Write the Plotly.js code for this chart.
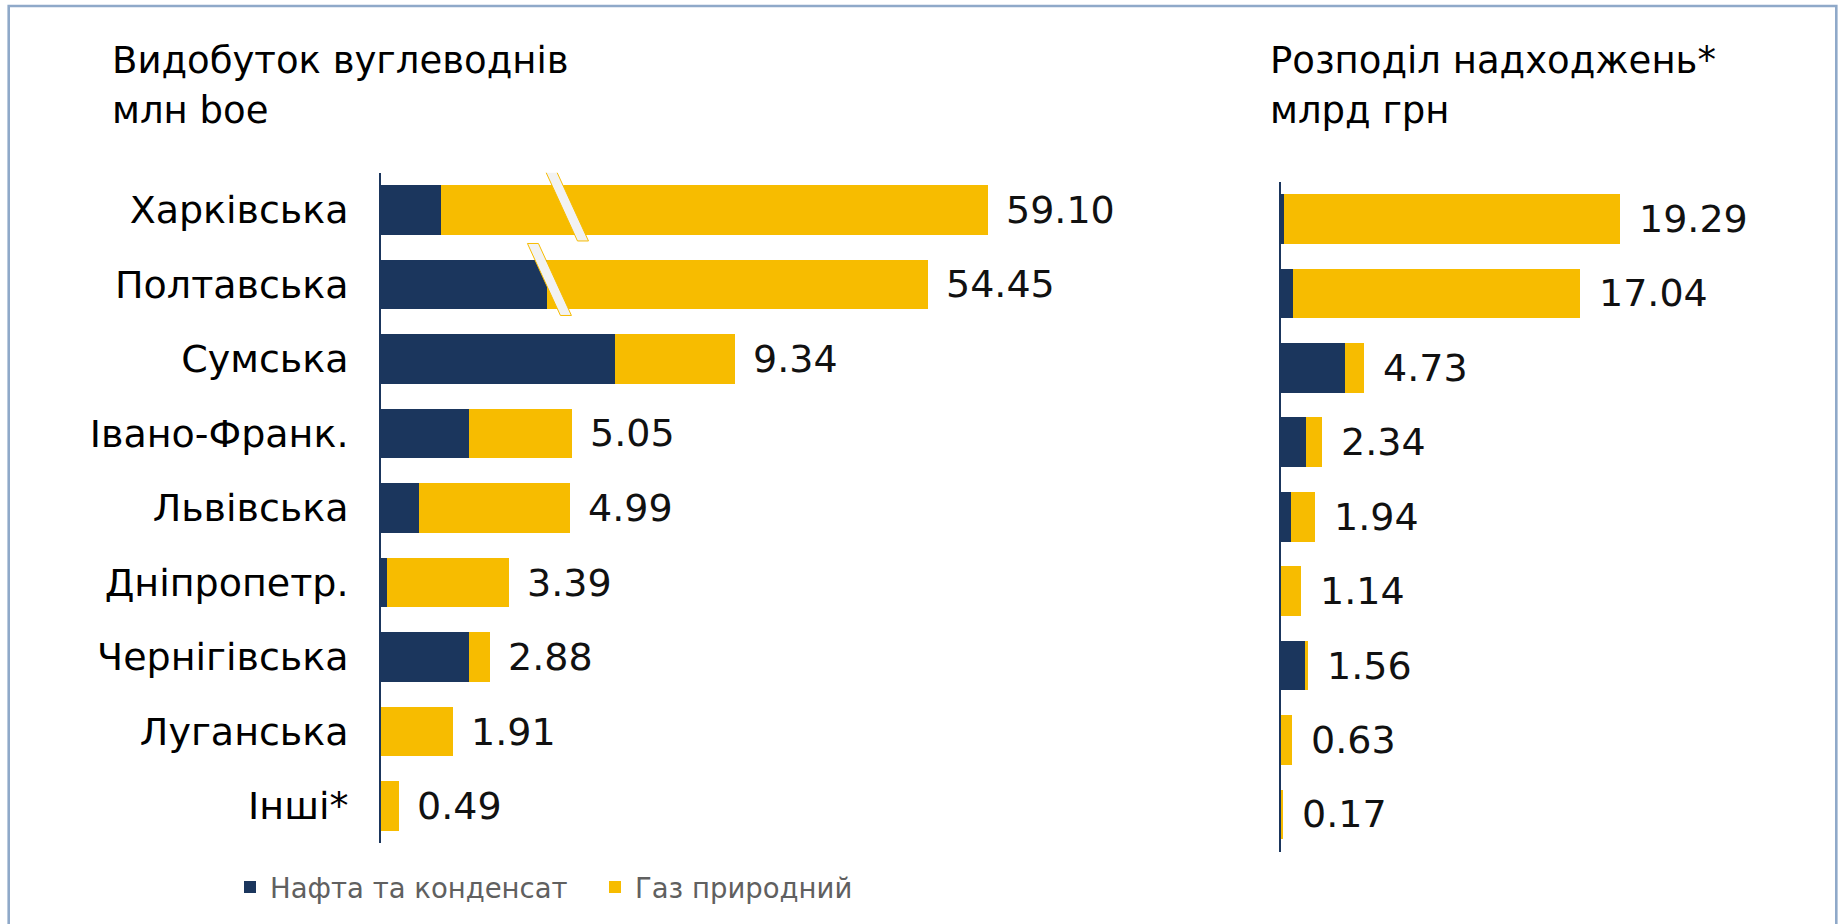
<!DOCTYPE html>
<html>
<head>
<meta charset="utf-8">
<script src="https://cdn.plot.ly/plotly-3.0.1.min.js"></script>
<style>
  html, body { margin: 0; padding: 0; background: #ffffff; }
  #chart { width: 1841px; height: 924px; }
</style>
</head>
<body>
<div id="chart"></div>
<script>
// ---------------- data ----------------
const regions = ["Харківська", "Полтавська", "Сумська", "Івано-Франк.", "Львівська",
                 "Дніпропетр.", "Чернігівська", "Луганська", "Інші*"];

// Видобуток вуглеводнів, млн boe
const prodOil   = [1.59, 4.39, 6.18, 2.32, 1.01, 0.17, 2.32, 0.00, 0.00];
const prodGas   = [57.51, 50.06, 3.16, 2.73, 3.98, 3.22, 0.56, 1.91, 0.49];
const prodTotal = [59.10, 54.45, 9.34, 5.05, 4.99, 3.39, 2.88, 1.91, 0.49];

// Розподіл надходжень*, млрд грн
const revOil   = [0.22, 0.71, 3.66, 1.46, 0.62, 0.00, 1.39, 0.00, 0.00];
const revGas   = [19.07, 16.33, 1.07, 0.88, 1.32, 1.14, 0.17, 0.63, 0.17];
const revTotal = [19.29, 17.04, 4.73, 2.34, 1.94, 1.14, 1.56, 0.63, 0.17];

const seriesNames = ["Нафта та конденсат", "Газ природний"];

// ---------------- styling ----------------
const NAVY = "#1B365D";
const GOLD = "#F7BC00";
const FONT = "DejaVu Sans, Liberation Sans, sans-serif";
const W = 1841, H = 924;
const px = v => v / W;            // pixel -> paper x
const py = v => 1 - v / H;        // pixel (from top) -> paper y

// axis break for the two very long production bars (drawn compressed)
const BREAK_ABOVE = 20, BREAK_K = 0.3376, BREAK_C = -3.93;
const shownTotal = t => (t > BREAK_ABOVE ? BREAK_K * t + BREAK_C : t);
const prodGasShown = prodTotal.map((t, i) => shownTotal(t) - prodOil[i]);
const breakMarkX = [4.97, 4.52];   // where the break slashes are drawn

const traces = [
  { type: "bar", orientation: "h", name: seriesNames[0], y: regions, x: prodOil,
    marker: { color: NAVY }, xaxis: "x", yaxis: "y", legendgroup: "oil",
    customdata: prodOil, hovertemplate: "%{y}: %{customdata}<extra></extra>" },
  { type: "bar", orientation: "h", name: seriesNames[1], y: regions, x: prodGasShown,
    marker: { color: GOLD }, xaxis: "x", yaxis: "y", legendgroup: "gas",
    customdata: prodGas, hovertemplate: "%{y}: %{customdata}<extra></extra>" },
  { type: "bar", orientation: "h", name: seriesNames[0], y: regions, x: revOil,
    marker: { color: NAVY }, xaxis: "x2", yaxis: "y2", legendgroup: "oil", showlegend: false },
  { type: "bar", orientation: "h", name: seriesNames[1], y: regions, x: revGas,
    marker: { color: GOLD }, xaxis: "x2", yaxis: "y2", legendgroup: "gas", showlegend: false }
];

const annotations = [];
const valFont = { family: FONT, size: 38, color: "#111111" };
regions.forEach((r, i) => {
  annotations.push({ xref: "x", yref: "y", x: shownTotal(prodTotal[i]), y: r,
    text: prodTotal[i].toFixed(2), showarrow: false, xanchor: "left", xshift: 16, font: valFont });
  annotations.push({ xref: "x2", yref: "y2", x: revTotal[i], y: r,
    text: revTotal[i].toFixed(2), showarrow: false, xanchor: "left", xshift: 17, font: valFont });
});
// titles
annotations.push({ xref: "paper", yref: "paper", x: px(110), y: py(60), xanchor: "left", yanchor: "middle",
  text: "Видобуток вуглеводнів", showarrow: false, font: { family: FONT, size: 37, color: "#000" } });
annotations.push({ xref: "paper", yref: "paper", x: px(110), y: py(111), xanchor: "left", yanchor: "middle",
  text: "млн boe", showarrow: false, font: { family: FONT, size: 37, color: "#000" } });
annotations.push({ xref: "paper", yref: "paper", x: px(1268), y: py(60), xanchor: "left", yanchor: "middle",
  text: "Розподіл надходжень*", showarrow: false, font: { family: FONT, size: 37, color: "#000" } });
annotations.push({ xref: "paper", yref: "paper", x: px(1268), y: py(111), xanchor: "left", yanchor: "middle",
  text: "млрд грн", showarrow: false, font: { family: FONT, size: 37, color: "#000" } });

const shapes = [
  // outer frame
  { type: "rect", xref: "paper", yref: "paper", x0: px(8.7), x1: px(1836.3), y0: py(940), y1: py(6),
    line: { color: "#8FA9C9", width: 2.6 }, fillcolor: "rgba(0,0,0,0)", layer: "above" }
];
breakMarkX.forEach((bx, i) => {
  shapes.push({ type: "path", xref: "x", yref: "y", xsizemode: "pixel", ysizemode: "pixel",
    xanchor: bx, yanchor: i, path: "M -24.5 41 L -13.5 41 L 19.5 -31 L 8.5 -31 Z",
    fillcolor: "#F2F2F2", line: { color: GOLD, width: 1 }, layer: "above" });
});

const layout = {
  width: W, height: H,
  margin: { l: 0, r: 0, t: 0, b: 0 },
  paper_bgcolor: "#ffffff", plot_bgcolor: "rgba(0,0,0,0)",
  barmode: "stack", bargap: 0.333,
  font: { family: FONT, color: "#000" },
  showlegend: true,
  legend: { orientation: "h", x: px(230), xanchor: "left", y: py(887), yanchor: "middle",
    font: { family: FONT, size: 27.5, color: "#606060" }, entrywidth: 320, entrywidthmode: "pixels",
    bgcolor: "rgba(0,0,0,0)", traceorder: "normal" },
  xaxis: { domain: [px(380.6), px(1180)], range: [0, 21.09], visible: false, fixedrange: true },
  yaxis: { domain: [py(843.3), py(172.7)], type: "category", categoryorder: "array", categoryarray: regions,
    range: [8.5, -0.5], showline: true, linecolor: NAVY, linewidth: 1.5, ticks: "", showgrid: false,
    zeroline: false, tickfont: { family: FONT, size: 38, color: "#000" }, ticklabelstandoff: 23, anchor: "x" },
  xaxis2: { domain: [px(1280.5), px(1800)], range: [0, 29.52], visible: false, anchor: "y2", fixedrange: true },
  yaxis2: { domain: [py(851.7), py(181.7)], type: "category", categoryorder: "array", categoryarray: regions,
    range: [8.5, -0.5], showline: true, linecolor: NAVY, linewidth: 1.5, ticks: "", showgrid: false,
    zeroline: false, showticklabels: false, anchor: "x2" },
  annotations: annotations,
  shapes: shapes
};

Plotly.newPlot("chart", traces, layout, { displayModeBar: false, staticPlot: true });
</script>
</body>
</html>
